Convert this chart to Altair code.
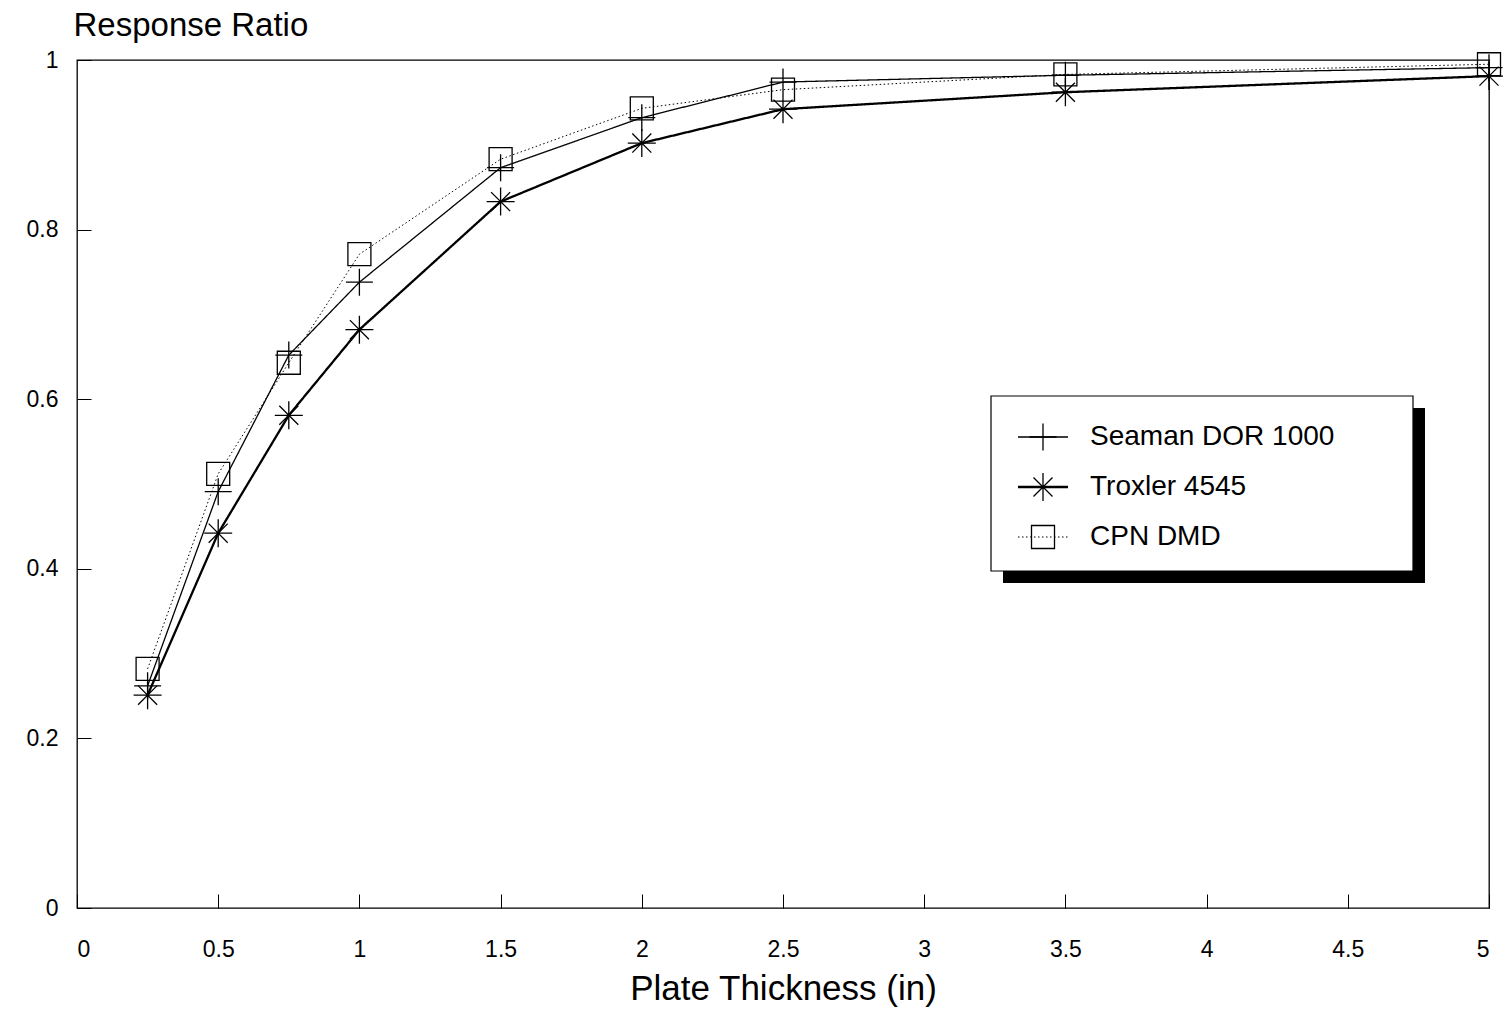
import altair as alt
import pandas as pd

# ---- data ----
thickness = [0.25, 0.5, 0.75, 1.0, 1.5, 2.0, 2.5, 3.5, 5.0]
seaman = [0.262, 0.491, 0.652, 0.738, 0.873, 0.932, 0.974, 0.982, 0.991]
troxler = [0.251, 0.442, 0.581, 0.682, 0.833, 0.902, 0.942, 0.962, 0.981]
cpn = [0.282, 0.512, 0.643, 0.771, 0.883, 0.943, 0.965, 0.983, 0.995]
series_names = ["Seaman DOR 1000", "Troxler 4545", "CPN DMD"]
x_ticks = [0, 0.5, 1, 1.5, 2, 2.5, 3, 3.5, 4, 4.5, 5]
y_ticks = [0, 0.2, 0.4, 0.6, 0.8, 1]

rows = []
for name, vals in zip(series_names, [seaman, troxler, cpn]):
    for xv, yv in zip(thickness, vals):
        rows.append({"x": xv, "y": yv, "series": name})
df = pd.DataFrame(rows)

W, H = 1412, 848
FONT = "Liberation Sans"

PLUS = "M-1,0L1,0M0,-1L0,1"
STAR = "M-1,0L1,0M0,-1L0,1M-0.68,-0.68L0.68,0.68M-0.68,0.68L0.68,-0.68"

styles = {
    "Seaman DOR 1000": dict(width=1.3, dash=[1, 0], shape=PLUS, size=729),
    "Troxler 4545": dict(width=2.3, dash=[1, 0], shape=STAR, size=784),
    "CPN DMD": dict(width=1.0, dash=[1.5, 2.5], shape="square", size=529),
}

xs = alt.Scale(domain=[0, 5], nice=False, zero=False)
ys = alt.Scale(domain=[0, 1], nice=False)

x_axis = alt.Axis(
    values=x_ticks, format="~g", orient="bottom", offset=-14, domain=False,
    grid=False, tickSize=14, tickColor="black", tickWidth=1,
    labelFont=FONT, labelFontSize=23, labelColor="black", labelPadding=30,
    title="Plate Thickness (in)", titleFont=FONT, titleFontSize=35,
    titleFontWeight="normal", titleColor="black", titleX=W / 2, titleY=105,
    titleAlign="center", titleBaseline="alphabetic",
)
y_axis = alt.Axis(
    values=y_ticks, format="~g", orient="left", offset=-14, domain=False,
    grid=False, tickSize=14, tickColor="black", tickWidth=1,
    labelFont=FONT, labelFontSize=23, labelColor="black", labelPadding=19,
    title="Response Ratio", titleFont=FONT, titleFontSize=33,
    titleFontWeight="normal", titleColor="black", titleAngle=0,
    titleX=-18, titleY=-25, titleAlign="left", titleBaseline="alphabetic",
)

enc_x = alt.X("x:Q", scale=xs, axis=x_axis)
enc_y = alt.Y("y:Q", scale=ys, axis=y_axis)

layers = []
for name in series_names:
    st = styles[name]
    sub = df[df["series"] == name]
    line = alt.Chart(sub).mark_line(
        color="black", strokeWidth=st["width"], strokeDash=st["dash"]
    ).encode(x=enc_x, y=enc_y)
    pts = alt.Chart(sub).mark_point(
        shape=st["shape"], size=st["size"], filled=False, color="black",
        strokeWidth=1.3, opacity=1
    ).encode(x=enc_x, y=enc_y)
    layers += [line, pts]

# ---- legend (drawn manually, with drop shadow) ----
one = pd.DataFrame({"a": [0]})
shadow = alt.Chart(one).mark_rect(color="black").encode(
    x=alt.value(926), x2=alt.value(1348), y=alt.value(348), y2=alt.value(523)
)
box = alt.Chart(one).mark_rect(fill="white", stroke="black", strokeWidth=1.2).encode(
    x=alt.value(914), x2=alt.value(1336), y=alt.value(336), y2=alt.value(511)
)
layers += [shadow, box]
for i, name in enumerate(series_names):
    st = styles[name]
    yy = 377 + 50 * i
    ldf = pd.DataFrame({"name": [name]})
    layers.append(
        alt.Chart(ldf).mark_rule(color="black", strokeWidth=st["width"], strokeDash=st["dash"]).encode(
            x=alt.value(941), x2=alt.value(991), y=alt.value(yy)
        )
    )
    layers.append(
        alt.Chart(ldf).mark_point(
            shape=st["shape"], size=st["size"], filled=False, color="black",
            strokeWidth=1.3, opacity=1
        ).encode(x=alt.value(966), y=alt.value(yy))
    )
    layers.append(
        alt.Chart(ldf).mark_text(
            align="left", baseline="middle", font=FONT, fontSize=28, color="black"
        ).encode(x=alt.value(1013), y=alt.value(yy), text="name:N")
    )

chart = alt.layer(*layers).properties(
    width=W, height=H,
    autosize=alt.AutoSizeParams(type="none"),
    padding={"left": 77, "top": 60, "right": 20, "bottom": 116},
    background="white",
).configure_view(stroke="black", strokeWidth=1.3)

chart.save("out.html", embed_options={"renderer": "svg", "actions": False})
